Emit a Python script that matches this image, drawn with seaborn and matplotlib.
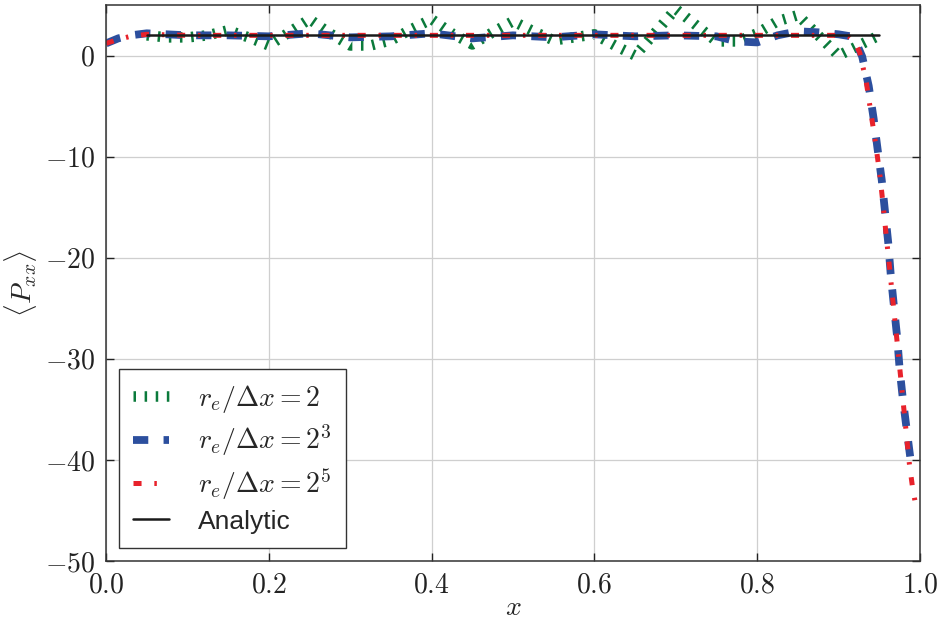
import numpy as np
import pandas as pd
import matplotlib
matplotlib.use("Agg")
import matplotlib.pyplot as plt
import seaborn as sns

# Mean pressure component <P_xx> along x for three kernel resolutions
x_coarse = [0.05, 0.075, 0.10, 0.125, 0.15, 0.175, 0.20, 0.225, 0.25, 0.275,
            0.30, 0.325, 0.35, 0.375, 0.40, 0.425, 0.45, 0.475, 0.50, 0.525,
            0.55, 0.575, 0.60, 0.625, 0.65, 0.675, 0.70, 0.725, 0.75, 0.775,
            0.80, 0.825, 0.85, 0.875, 0.90, 0.925, 0.95]
p_coarse = [2.0, 1.8, 1.8, 2.0, 2.5, 1.8, 1.0, 2.3, 3.6, 2.2,
            1.0, 1.0, 1.5, 2.6, 3.6, 2.2, 1.1, 2.3, 3.4, 2.4,
            1.5, 1.8, 2.1, 1.0, 0.0, 2.3, 4.6, 3.0, 1.4, 1.4,
            2.2, 3.4, 4.0, 2.0, 0.0, 1.0, 2.0]

x_mid = [0.0, 0.015, 0.03, 0.05, 0.10, 0.15, 0.20, 0.25, 0.30, 0.35,
         0.40, 0.45, 0.50, 0.55, 0.60, 0.65, 0.70, 0.75, 0.775, 0.80,
         0.825, 0.85, 0.875, 0.90, 0.915, 0.922, 0.929, 0.937, 0.943, 0.948,
         0.953, 0.957, 0.961, 0.964, 0.968, 0.972, 0.975, 0.979, 0.984, 0.988]
p_mid = [1.2, 1.7, 2.0, 2.2, 2.0, 2.0, 1.9, 2.2, 1.8, 1.9,
         2.2, 1.7, 2.0, 1.8, 2.1, 1.9, 2.0, 1.9, 1.4, 1.3,
         2.0, 2.4, 2.3, 2.1, 1.9, 1.2, -0.1, -3.0, -6.2, -9.3,
         -12.3, -15.4, -18.5, -21.6, -24.8, -27.9, -31.0, -34.0, -37.2, -39.7]

x_fine = [0.0, 0.015, 0.03, 0.05, 0.10, 0.20, 0.30, 0.40, 0.50, 0.60,
          0.70, 0.80, 0.90, 0.912, 0.920, 0.926, 0.934, 0.940, 0.946, 0.951,
          0.955, 0.959, 0.963, 0.967, 0.971, 0.975, 0.979, 0.983, 0.987, 0.991,
          0.996]
p_fine = [1.2, 1.6, 1.9, 2.1, 2.0, 2.0, 2.0, 2.0, 2.0, 2.0,
          2.0, 2.0, 2.0, 1.9, 1.3, 0.3, -2.6, -5.8, -9.0, -12.0,
          -15.0, -18.2, -21.3, -24.5, -27.6, -30.8, -34.0, -37.2, -40.4, -42.8,
          -45.0]

x_exact = [0.05, 0.95]
p_exact = [2.0, 2.0]

labels = [r"$r_e/\Delta x = 2$", r"$r_e/\Delta x = 2^3$",
          r"$r_e/\Delta x = 2^5$", "Analytic"]

sns.set_theme(style="ticks")
plt.rcParams.update({
    "font.family": "serif",
    "font.serif": ["cmr10", "DejaVu Serif"],
    "mathtext.fontset": "cm",
    "axes.formatter.use_mathtext": True,
    "lines.scale_dashes": False,
    "axes.edgecolor": "#333333",
    "axes.linewidth": 1.1,
    "xtick.direction": "in",
    "ytick.direction": "in",
    "xtick.top": True,
    "ytick.right": True,
    "xtick.major.size": 6,
    "ytick.major.size": 6,
    "xtick.major.width": 1.0,
    "ytick.major.width": 1.0,
    "xtick.color": "#222222",
    "ytick.color": "#222222",
})

fig = plt.figure(figsize=(9.4, 6.19), dpi=100)
ax = fig.add_axes([0.1128, 0.0937, 0.8659, 0.8982])

series = [
    (x_coarse, p_coarse, "#0b7a3b", 7.6, (1.8, 6.2), labels[0]),
    (x_mid, p_mid, "#2c4f9e", 5.6, (11.0, 11.0), labels[1]),
    (x_fine, p_fine, "#e8222b", 3.6, (5.8, 9.2, 1.8, 9.2), labels[2]),
]
for xs, ps, col, lw, dash, lab in series:
    df = pd.DataFrame({"x": xs, "p": ps})
    sns.lineplot(data=df, x="x", y="p", ax=ax, color=col, lw=lw, label=lab,
                 solid_capstyle="butt")
    line = ax.lines[-1]
    line.set_dashes(dash)
    line.set_dash_capstyle("butt")

df_exact = pd.DataFrame({"x": x_exact, "p": p_exact})
sns.lineplot(data=df_exact, x="x", y="p", ax=ax, color="#1a1a1a", lw=1.8,
             label=labels[3])

ax.set_xlim(0.0, 1.0)
ax.set_ylim(-50, 5)
ax.set_xticks(np.arange(0.0, 1.01, 0.2))
ax.set_yticks(np.arange(-50, 1, 10))
ax.xaxis.set_major_formatter(matplotlib.ticker.FormatStrFormatter(r"$%.1f$"))
ax.yaxis.set_major_formatter(matplotlib.ticker.FuncFormatter(
    lambda v, _: r"$%d$" % int(round(v))))
ax.tick_params(labelsize=20, pad=8)
ax.grid(True, color="#cfcfcf", lw=0.9)

ax.set_xlabel(r"$x$", fontsize=20, labelpad=-3)
ax.set_ylabel(r"$\langle P_{xx} \rangle$", fontsize=20, labelpad=4)

leg = ax.legend(loc="lower left", fontsize=20, frameon=True, fancybox=False,
                framealpha=1.0, edgecolor="#333333", borderaxespad=0.47,
                handlelength=1.3, labelspacing=0.28, borderpad=0.5,
                handletextpad=1.05)
leg.get_frame().set_linewidth(1.0)
leg.get_texts()[3].set_family(["Liberation Sans", "DejaVu Sans"])
leg.get_texts()[3].set_fontsize(19)

fig.savefig("out.png", dpi=100)
